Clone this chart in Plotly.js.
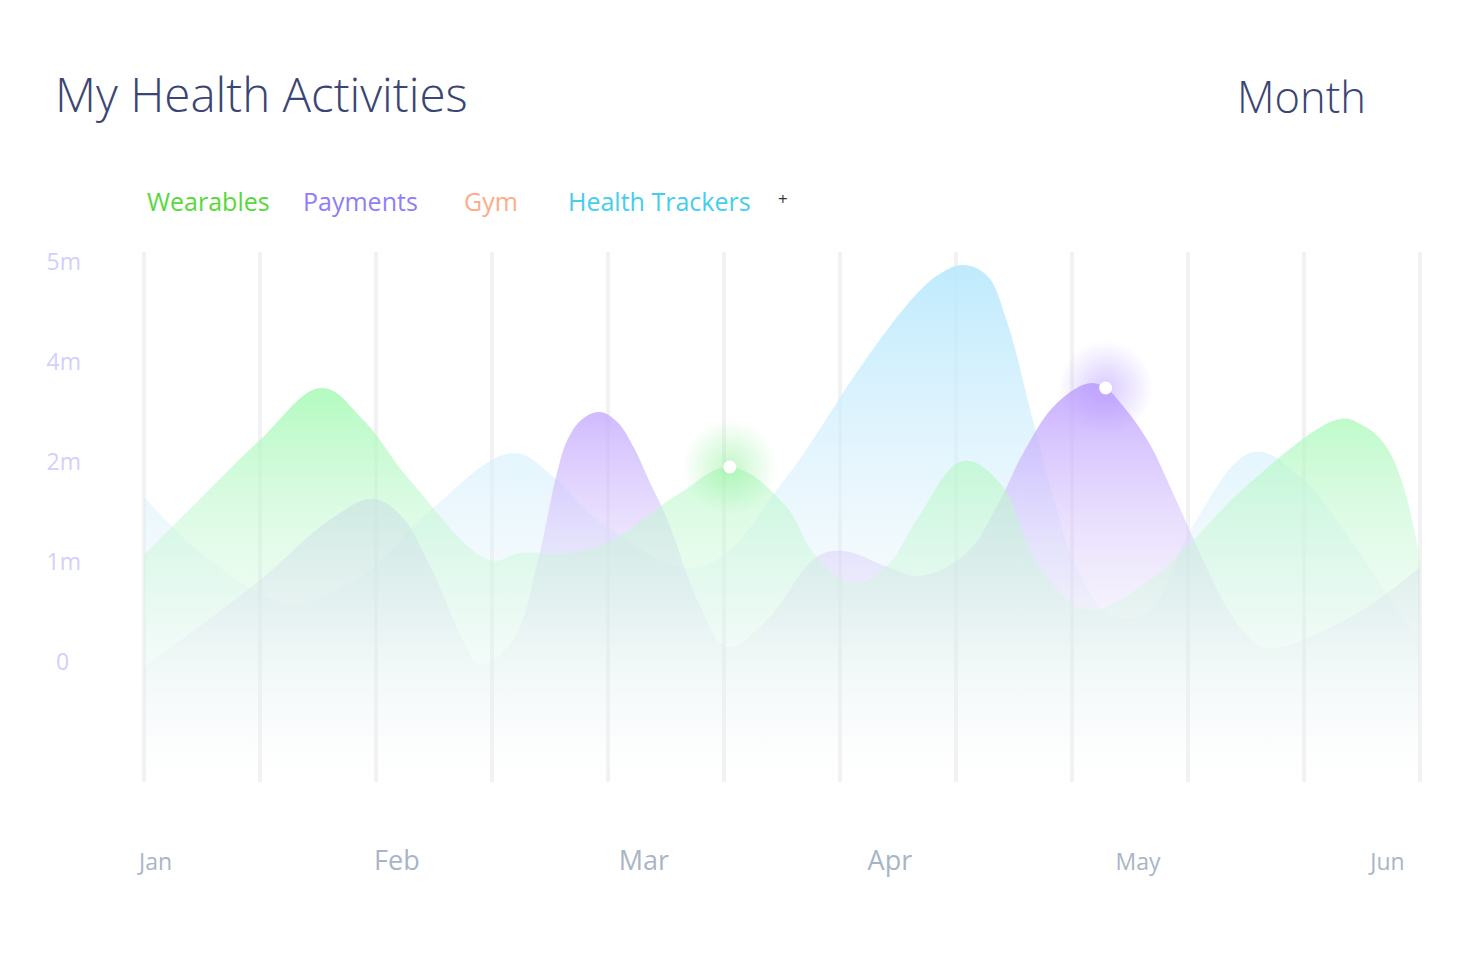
<!DOCTYPE html>
<html>
<head>
<meta charset="utf-8">
<script src="https://cdn.plot.ly/plotly-3.0.1.min.js"></script>
<style>
  html, body { margin: 0; padding: 0; background: #ffffff; }
  #chart { width: 1482px; height: 961px; }
</style>
</head>
<body>
<div id="chart"></div>
<script>
// ---------- data (x in half-month grid steps, y in chart units) ----------
const seriesNames = ['Wearables', 'Payments', 'Gym', 'Health Trackers'];
const legendColors = ['#57d83a', '#8f7efc', '#fdab8a', '#45cdee'];

const monthLabels = ['Jan', 'Feb', 'Mar', 'Apr', 'May', 'Jun'];
const monthTickPos = [0.1, 2.18, 4.31, 6.43, 8.57, 10.72];
const gridSteps = [0, 1, 2, 3, 4, 5, 6, 7, 8, 9, 10, 11];

const yTickVals = [0, 1, 2, 3, 4];
const yTickText = ['0', '1m', '2m', '4m', '5m'];

const wearablesX = [0, 0.5, 1.0, 1.53, 1.89, 2.29, 2.98, 3.24, 3.65, 3.99, 4.62, 5.05, 5.51, 5.80, 6.13, 6.41, 6.66, 7.06, 7.38, 7.72, 8.13, 8.67, 9.02, 9.53, 10.31, 10.5, 10.68, 10.84, 11];
const wearablesY = [1.07, 1.65, 2.22, 2.74, 2.42, 1.82, 1.02, 1.09, 1.09, 1.19, 1.69, 1.95, 1.59, 1.05, 0.79, 0.97, 1.42, 2.01, 1.79, 0.95, 0.52, 0.82, 1.19, 1.79, 2.43, 2.37, 2.2, 1.82, 1.02];

const paymentsX = [0, 1.0, 1.6, 1.97, 2.21, 2.47, 2.75, 2.9, 3.18, 3.39, 3.56, 3.65, 3.78, 3.93, 4.08, 4.22, 4.36, 4.51, 4.79, 5.03, 5.37, 5.80, 6.03, 6.41, 6.69, 7.09, 7.38, 7.58, 7.87, 8.16, 8.29, 8.44, 8.66, 8.87, 9.08, 9.30, 9.5, 9.68, 10.40, 11];
const paymentsY = [-0.05, 0.82, 1.42, 1.63, 1.47, 0.95, 0.22, -0.03, 0.22, 0.99, 1.89, 2.22, 2.43, 2.5, 2.4, 2.15, 1.8, 1.43, 0.57, 0.15, 0.42, 1.05, 1.11, 0.95, 0.86, 1.09, 1.62, 2.09, 2.59, 2.79, 2.74, 2.56, 2.2, 1.69, 1.15, 0.62, 0.28, 0.14, 0.45, 0.95];

const trackersX = [0, 0.57, 1.26, 1.89, 2.47, 3.18, 3.53, 3.93, 4.71, 5.05, 5.42, 5.66, 6.23, 6.66, 6.86, 7.06, 7.27, 7.44, 7.66, 7.87, 8.01, 8.33, 8.67, 9.02, 9.56, 9.97, 10.40, 10.91, 11];
const trackersY = [1.65, 1.02, 0.59, 0.87, 1.52, 2.09, 1.85, 1.40, 0.94, 1.12, 1.67, 2.04, 3.04, 3.68, 3.88, 3.97, 3.86, 3.40, 2.43, 1.52, 1.02, 0.47, 0.52, 1.32, 2.10, 1.85, 1.22, 0.35, 0.22];

// highlighted points (index into the series)
const wearablesHighlight = 11;
const paymentsHighlight = 30;

// ---------- styling ----------
const PAD = 0.0172;            // 2px so the edge grid lines are drawn
const Y_FLOOR = -1.2, Y_TOP = 4.1;
const FONT = 'Open Sans, Noto Sans, sans-serif';

function baseline() {
  return { x: [0, 11], y: [Y_FLOOR, Y_FLOOR], mode: 'lines', line: { width: 0 },
           hoverinfo: 'skip', showlegend: false };
}
function area(name, xs, ys, stops) {
  const top = Math.max.apply(null, ys);
  return {
    name: name, x: xs, y: ys, mode: 'lines', fill: 'tonexty',
    line: { width: 0, shape: 'spline', smoothing: 1.1 },
    fillcolor: stops[stops.length - 1][1],
    fillgradient: { type: 'vertical', start: Y_FLOOR, stop: top, colorscale: stops },
    hoverinfo: 'skip', showlegend: false
  };
}
function glow(xv, yv, rgb) {
  return {
    x: [xv], y: [yv], xaxis: 'x2', mode: 'markers', hoverinfo: 'skip', showlegend: false,
    marker: { size: 95, color: 'rgba(' + rgb + ',0)', line: { width: 0 },
              gradient: { type: 'radial', color: 'rgba(' + rgb + ',0.5)' } }
  };
}

const traces = [
  baseline(),
  area('Health Trackers', trackersX, trackersY, [
    [0, 'rgba(245,248,250,0)'],
    [0.25, 'rgba(232,243,248,0.18)'],
    [0.55, 'rgba(215,240,252,0.52)'],
    [1, 'rgba(185,233,253,0.92)']
  ]),
  baseline(),
  area('Payments', paymentsX, paymentsY, [
    [0, 'rgba(235,235,248,0)'],
    [0.3, 'rgba(220,215,242,0.13)'],
    [0.62, 'rgba(215,197,252,0.48)'],
    [1, 'rgba(190,160,255,0.85)']
  ]),
  baseline(),
  area('Wearables', wearablesX, wearablesY, [
    [0, 'rgba(240,248,245,0)'],
    [0.35, 'rgba(212,246,226,0.26)'],
    [0.7, 'rgba(190,248,205,0.55)'],
    [1, 'rgba(165,250,180,0.85)']
  ]),
  glow(wearablesX[wearablesHighlight], wearablesY[wearablesHighlight], '140,240,150'),
  glow(paymentsX[paymentsHighlight], paymentsY[paymentsHighlight], '180,150,255'),
  {
    x: [wearablesX[wearablesHighlight], paymentsX[paymentsHighlight]],
    y: [wearablesY[wearablesHighlight], paymentsY[paymentsHighlight]],
    xaxis: 'x2', mode: 'markers', hoverinfo: 'skip', showlegend: false,
    marker: { size: 13, color: '#ffffff', line: { width: 0 } }
  }
];

// legend as coloured text
const legendX = [145, 301, 462, 566];
const annotations = seriesNames.map((n, i) => ({
  text: n, xref: 'paper', yref: 'paper',
  x: (legendX[i] - 142) / 1280, y: (782 - 201) / 530,
  xanchor: 'left', yanchor: 'middle', showarrow: false,
  font: { family: FONT, size: 25, color: legendColors[i] }
}));
annotations.push({
  text: '+', xref: 'paper', yref: 'paper', x: (783 - 142) / 1280, y: (782 - 199) / 530,
  xanchor: 'center', yanchor: 'middle', showarrow: false,
  font: { family: FONT, size: 17, color: '#333344' }
});
annotations.push({
  text: 'Month', xref: 'paper', yref: 'paper', x: (1368 - 142) / 1280, y: (782 - 97) / 530,
  xanchor: 'right', yanchor: 'middle', showarrow: false,
  font: { family: FONT, size: 43.5, weight: 300, color: '#3a4573' }
});

const bigMonths = { 'Feb': 1, 'Mar': 1, 'Apr': 1 };
const monthText = monthLabels.map(m => bigMonths[m] ? m : '<span style="font-size:23px">' + m + '</span>');

const layout = {
  width: 1482, height: 961,
  margin: { l: 142, r: 60, t: 252, b: 179, pad: 0 },
  paper_bgcolor: '#ffffff', plot_bgcolor: '#ffffff',
  font: { family: FONT },
  title: {
    text: 'My Health Activities', xref: 'container', yref: 'container',
    x: 55 / 1482, xanchor: 'left', y: 1 - 95 / 961, yanchor: 'middle',
    font: { family: FONT, size: 47.5, weight: 300, color: '#3a4573' }
  },
  showlegend: false,
  xaxis: {
    range: [-PAD, 11 + PAD], tickvals: gridSteps, showticklabels: false, ticks: '',
    showgrid: true, gridcolor: 'rgba(0,0,0,0.05)', gridwidth: 4,
    zeroline: false, showline: false, fixedrange: true
  },
  xaxis2: {
    overlaying: 'x', anchor: 'y', side: 'bottom', range: [-PAD, 11 + PAD],
    tickvals: monthTickPos, ticktext: monthText, ticks: '',
    showgrid: false, zeroline: false, showline: false,
    tickfont: { family: FONT, size: 27, color: '#a9b5c6' },
    ticklabelstandoff: 60, fixedrange: true
  },
  yaxis: {
    range: [Y_FLOOR, Y_TOP], tickvals: yTickVals,
    ticktext: yTickText.map(t => t === '0' ? '0&nbsp;&nbsp;' : t),
    ticks: '', showgrid: false, zeroline: false, showline: false,
    tickfont: { family: FONT, size: 23, color: '#d3cffd' },
    ticklabelstandoff: 60, fixedrange: true
  },
  annotations: annotations
};

Plotly.newPlot('chart', traces, layout, { displayModeBar: false, staticPlot: true });
</script>
</body>
</html>
